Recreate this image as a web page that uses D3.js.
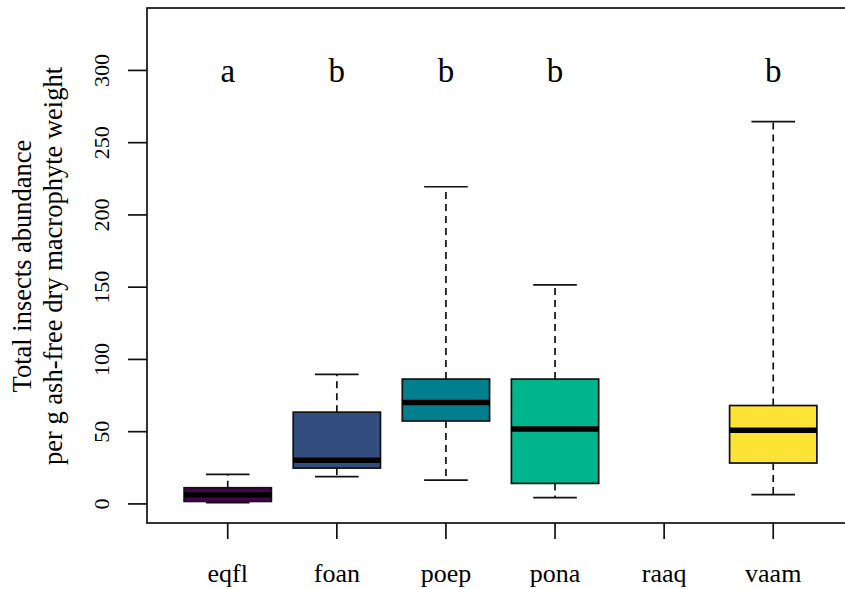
<!DOCTYPE html>
<html><head><meta charset="utf-8">
<script src="https://cdn.jsdelivr.net/npm/d3@7"></script>
<style>body{margin:0;background:#fff}svg{display:block}text{font-family:"Liberation Serif","Times New Roman",serif;fill:#000}</style>
</head><body>
<svg id="c" width="845" height="589"></svg>
<script>
const categories = ["eqfl","foan","poep","pona","raaq","vaam"];
const lowerWhisker = [0.8, 18.9, 16.5, 4.3, null, 6.4];
const q1 = [1.7, 24.8, 57.4, 14.2, null, 28.3];
const median = [6.4, 30.2, 70.2, 51.9, null, 51.0];
const q3 = [11.2, 63.5, 86.4, 86.4, null, 68.1];
const upperWhisker = [20.5, 89.6, 219.5, 151.6, null, 264.6];
const colors = ["#4B0055","#334E7E","#00808F","#00B48B","#6CC963","#FDE333"];
const letters = ["a","b","b","b","","b"];
const yTicks = [0,50,100,150,200,250,300];

const svg = d3.select("#c");
const L = 147, T = 8, B = 523;
const x = d3.scaleLinear().domain([0.26, 6.74]).range([L, L + 6.48*109.1]);
const y = d3.scaleLinear().domain([-13.2, 343.2]).range([B, T]);
const R = x(6.74);

const data = categories.map((c,i)=>({c,i,lw:lowerWhisker[i],q1:q1[i],med:median[i],q3:q3[i],uw:upperWhisker[i],col:colors[i],pos:i+1}))
  .filter(d=>d.med!==null);
const g = svg.append("g");
const bw = 0.4, cw = 0.2;
data.forEach(d=>{
  const gg = g.append("g");
  gg.append("line").attr("x1",x(d.pos)).attr("x2",x(d.pos)).attr("y1",y(d.q3)).attr("y2",y(d.uw))
    .attr("stroke","#111").attr("stroke-width",1.7).attr("stroke-dasharray","7,5");
  gg.append("line").attr("x1",x(d.pos)).attr("x2",x(d.pos)).attr("y1",y(d.q1)).attr("y2",y(d.lw))
    .attr("stroke","#111").attr("stroke-width",1.7).attr("stroke-dasharray","7,5");
  [d.uw,d.lw].forEach(v=>gg.append("line").attr("x1",x(d.pos-cw)).attr("x2",x(d.pos+cw)).attr("y1",y(v)).attr("y2",y(v))
    .attr("stroke","#111").attr("stroke-width",1.7));
  gg.append("rect").attr("x",x(d.pos-bw)).attr("width",x(d.pos+bw)-x(d.pos-bw))
    .attr("y",y(d.q3)).attr("height",y(d.q1)-y(d.q3)).attr("fill",d.col).attr("stroke","#111").attr("stroke-width",1.7);
  gg.append("line").attr("x1",x(d.pos-bw)).attr("x2",x(d.pos+bw)).attr("y1",y(d.med)).attr("y2",y(d.med))
    .attr("stroke","#000").attr("stroke-width",5.5);
});

svg.append("rect").attr("x",L).attr("y",T).attr("width",R-L).attr("height",B-T)
  .attr("fill","none").attr("stroke","#111").attr("stroke-width",1.7);

const ya = svg.append("g");
yTicks.forEach(v=>{
  ya.append("line").attr("x1",128).attr("x2",L).attr("y1",y(v)).attr("y2",y(v)).attr("stroke","#111").attr("stroke-width",1.7);
  ya.append("text").attr("transform",`translate(109,${y(v)}) rotate(-90)`).attr("text-anchor","middle")
    .attr("font-size",22).text(v);
});
categories.forEach((c,i)=>{
  svg.append("line").attr("x1",x(i+1)).attr("x2",x(i+1)).attr("y1",B).attr("y2",B+16).attr("stroke","#111").attr("stroke-width",1.7);
  svg.append("text").attr("x",x(i+1)).attr("y",582).attr("text-anchor","middle").attr("font-size",26).text(c);
  if (letters[i]) svg.append("text").attr("x",x(i+1)).attr("y",82).attr("text-anchor","middle").attr("font-size",33).text(letters[i]);
});
const yt = svg.append("text").attr("transform","translate(0,266) rotate(-90)").attr("text-anchor","middle").attr("font-size",26.5);
yt.append("tspan").attr("x",0).attr("y",31).text("Total insects abundance");
yt.append("tspan").attr("x",0).attr("y",62).text("per g ash-free dry macrophyte weight");
</script>
</body></html>
